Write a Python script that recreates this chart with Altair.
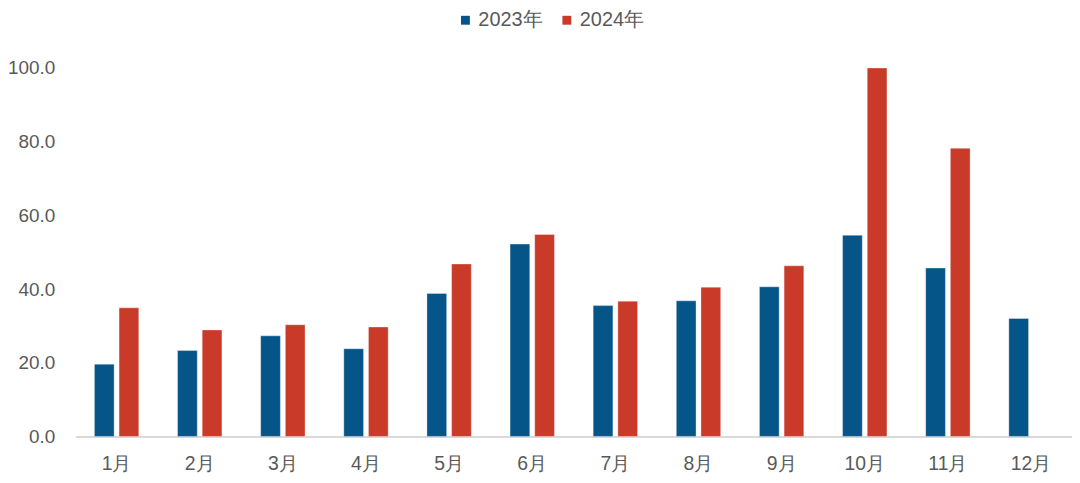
import altair as alt
import pandas as pd

months = ["1月", "2月", "3月", "4月", "5月", "6月", "7月", "8月", "9月", "10月", "11月", "12月"]
v2023 = [19.6, 23.3, 27.3, 23.8, 38.8, 52.2, 35.5, 36.8, 40.6, 54.6, 45.7, 32.0]
v2024 = [34.9, 28.9, 30.3, 29.7, 46.8, 54.8, 36.7, 40.5, 46.3, 100.0, 78.2, None]
series = ["2023年", "2024年"]
colors = ["#065588", "#C93A28"]
y_ticks = [0, 20, 40, 60, 80, 100]

rows = []
for m, a, b in zip(months, v2023, v2024):
    rows.append({"month": m, "year": series[0], "value": a})
    if b is not None:
        rows.append({"month": m, "year": series[1], "value": b})
df = pd.DataFrame(rows)

FONT = "Liberation Sans"
GRAY = "#595959"

chart = alt.Chart(df).mark_bar(strokeWidth=1, strokeOpacity=0.35, stroke="white").encode(
    x=alt.X("month:N", sort=months, title=None,
            scale=alt.Scale(paddingInner=0.466, paddingOuter=0.226),
            axis=alt.Axis(labelAngle=0, labelFontSize=19.5, labelColor=GRAY, labelFont=FONT,
                          tickSize=0, labelPadding=18, domainColor="#d9d9d9", domainWidth=2)),
    xOffset=alt.XOffset("year:N", sort=series, scale=alt.Scale(paddingInner=0.2)),
    y=alt.Y("value:Q", title=None,
            scale=alt.Scale(domain=[0, 100], nice=False),
            axis=alt.Axis(values=y_ticks, format=".1f", grid=False, domain=False, tickSize=0,
                          labelFontSize=19, labelColor=GRAY, labelFont=FONT, labelPadding=21)),
    color=alt.Color("year:N", sort=series,
                    scale=alt.Scale(domain=series, range=colors),
                    legend=alt.Legend(title=None, orient="none", direction="horizontal",
                                      legendX=382, legendY=-58, symbolType="square",
                                      symbolSize=80, symbolStrokeWidth=0,
                                      labelFontSize=20, labelColor=GRAY, labelFont=FONT,
                                      columnPadding=14, labelOffset=3)),
).properties(
    width=1002, height=370.5, background="white",
    padding={"left": 68, "top": 59, "right": 0, "bottom": 40},
    autosize=alt.AutoSizeParams(type="none"),
).configure_view(strokeWidth=0, stroke=None)

chart.save("out.html", embed_options={"renderer": "svg", "actions": False})
